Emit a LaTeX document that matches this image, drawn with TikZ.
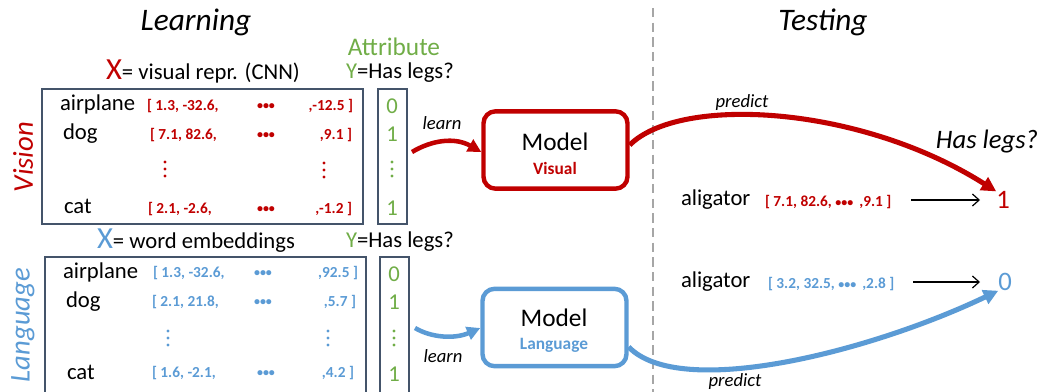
\documentclass[tikz,border=0pt]{standalone}
\usepackage{fontspec}
\setmainfont{Carlito}
\usetikzlibrary{arrows.meta}
\definecolor{cred}{HTML}{C00000}
\definecolor{cblue}{HTML}{5B9BD5}
\definecolor{cgreen}{HTML}{70AD47}
\definecolor{cframe}{HTML}{44546A}
\definecolor{cdash}{HTML}{A6A6A6}
\newcommand{\bdots}{{\fontsize{9}{10}\selectfont •••}}
\tikzset{
  px/.style={inner sep=0pt, outer sep=0pt},
  title/.style={px, font=\fontsize{23.5}{26}\itshape\selectfont},
  side/.style={px, font=\fontsize{21.5}{24}\itshape\selectfont, rotate=90},
  hdr/.style={px, font=\fontsize{17}{20}\selectfont, anchor=west},
  word/.style={px, font=\fontsize{17}{20}\selectfont, anchor=west},
  vec/.style={px, font=\fontsize{11.5}{12}\bfseries\selectfont},
  num/.style={px, font=\fontsize{17}{20}\selectfont, text=cgreen},
  frame/.style={draw=cframe, line width=1.3pt},
  modelbox/.style={draw, line width=3.3pt, rounded corners=9pt, minimum width=108pt, minimum height=58pt, inner sep=0pt},
  lbl/.style={px, font=\fontsize{14}{16}\itshape\selectfont},
  thick arrow/.style={line width=3.4pt, -{Triangle[length=10pt,width=10pt]}},
  thin arrow/.style={line width=0.9pt, -{Straight Barb[length=5pt,width=9pt]}},
  vd/.pic={\fill (0,-7) circle (1.6) (0,0) circle (1.6) (0,7) circle (1.6);},
}
\begin{document}
\begin{tikzpicture}[x=0.75pt,y=-0.75pt]
\useasboundingbox (0,0) rectangle (1042,392);
% titles and separator
\node[title] (tlearn) at (196,22) {Learning};
\node[title] (ttest) at (823,22) {Testing};
\coordinate (sepTop) at (653,8);
\coordinate (sepBot) at (653,392);
\draw[cdash, line width=1pt, dash pattern=on 7pt off 4pt] (sepTop) -- (sepBot);

% ---------- Vision block ----------
\node[hdr] (xv) at (106,71) {{\fontsize{23}{26}\selectfont\color{cred}X}= visual repr. (CNN)};
\node[px, font=\fontsize{19}{22}\selectfont, text=cgreen] (attr) at (394,47) {Attribute};
\node[hdr] (yv) at (346,73) {{\color{cgreen}Y}=Has legs?};
\node[side, text=cred] (vision) at (23,157) {Vision};
\node[frame, px, minimum width=240.75pt, minimum height=101.25pt] (boxV) at (202.5,156.5) {};
\node[frame, px, minimum width=21.75pt, minimum height=101.25pt] (colV) at (392.5,156.5) {};

\node[word] (va1) at (60,104) {airplane};
\node[word] (va2) at (63,134) {dog};
\node[word] (va4) at (64,206) {cat};
\begin{scope}[every node/.style={text=cred}]
\node[vec, anchor=west] (vl1) at (147,106) {[ 1.3, -32.6,};
\node[vec, anchor=west] (vl2) at (150,135) {[ 7.1, 82.6,};
\node[vec, anchor=west] (vl4) at (148,209) {[ 2.1, -2.6,};
\node[vec] (vd1) at (266,107) {\bdots};
\node[vec] (vd2) at (266,136) {\bdots};
\node[vec] (vd4) at (266,210) {\bdots};
\node[vec, anchor=east] (vr1) at (353,106) {,-12.5 ]};
\node[vec, anchor=east] (vr2) at (352,135) {,9.1 ]};
\node[vec, anchor=east] (vr4) at (352,209) {,-1.2 ]};
\end{scope}
\pic[cred] at (165,169) {vd};
\pic[cred] at (324,170) {vd};
\node[num] (vn1) at (392,106) {0};
\node[num] (vn2) at (392,134) {1};
\pic[cgreen] at (392,169) {vd};
\node[num] (vn4) at (392,208) {1};

\node[modelbox, draw=cred] (modelV) at (555.5,150) {};
\node[px, font=\fontsize{19}{22}\selectfont] (mV) at (555,142) {Model};
\node[px, font=\fontsize{13}{15}\bfseries\selectfont, text=cred] (mVs) at (555,168) {Visual};

\coordinate (learnVs) at (412,152);
\draw[cred, thick arrow] (learnVs) .. controls (432,140) and (455,137) .. (modelV.west |- learnVs);
\node[lbl] (learnV) at (442,123) {learn};

% ---------- Language block ----------
\node[hdr] (xl) at (97,241) {{\fontsize{23}{26}\selectfont\color{cblue}X}= word embeddings};
\node[hdr] (yl) at (346,242) {{\color{cgreen}Y}=Has legs?};
\node[side, text=cblue] (language) at (23,325) {Language};
\coordinate (bL1) at (45,394);
\coordinate (bL2) at (45,257);
\coordinate (bL3) at (366,257);
\coordinate (bL4) at (366,394);
\draw[frame] (bL1) -- (bL2) -- (bL3) -- (bL4);
\coordinate (cL1) at (380,394);
\coordinate (cL2) at (380,257);
\coordinate (cL3) at (409,257);
\coordinate (cL4) at (409,394);
\draw[frame] (cL1) -- (cL2) -- (cL3) -- (cL4);

\node[word] (la1) at (63,272) {airplane};
\node[word] (la2) at (66,302) {dog};
\node[word] (la4) at (67,372) {cat};
\begin{scope}[every node/.style={text=cblue}]
\node[vec, anchor=west] (ll1) at (153,273) {[ 1.3, -32.6,};
\node[vec, anchor=west] (ll2) at (152,302) {[ 2.1, 21.8,};
\node[vec, anchor=west] (ll4) at (152,373) {[ 1.6, -2.1,};
\node[vec] (ld1) at (263,274) {\bdots};
\node[vec] (ld2) at (263,303) {\bdots};
\node[vec] (ld4) at (266,374) {\bdots};
\node[vec, anchor=east] (lr1) at (358,273) {,92.5 ]};
\node[vec, anchor=east] (lr2) at (356,302) {,5.7 ]};
\node[vec, anchor=east] (lr4) at (354,373) {,4.2 ]};
\end{scope}
\pic[cblue] at (168,338) {vd};
\pic[cblue] at (328,338) {vd};
\node[num] (ln1) at (394,274) {0};
\node[num] (ln2) at (394,302) {1};
\pic[cgreen] at (394,338) {vd};
\node[num] (ln4) at (394,374) {1};

\node[modelbox, draw=cblue] (modelL) at (554.5,327.5) {};
\node[px, font=\fontsize{19}{22}\selectfont] (mL) at (554,318) {Model};
\node[px, font=\fontsize{13}{15}\bfseries\selectfont, text=cblue] (mLs) at (554,345) {Language};

\coordinate (learnLs) at (415,328);
\draw[cblue, thick arrow] (learnLs) .. controls (432,338) and (455,339) .. (modelL.west |- learnLs);
\node[lbl] (learnL) at (443,356) {learn};

% ---------- Testing ----------
\node[px, font=\fontsize{20}{23}\itshape\selectfont] (haslegs) at (987,142) {Has legs?};
\node[word] (al1) at (681,200) {aligator};
\node[vec, anchor=west, text=cred] (tv1) at (765,202) {[ 7.1, 82.6,\ \bdots\ \,,9.1 ]};
\node[px, font=\fontsize{20}{23}\selectfont, text=cred] (out1) at (1003,200) {1};
\coordinate (a1s) at (911,200);
\draw[thin arrow] (a1s) -- (out1.west -| 980,0);

\node[word] (al2) at (681,282) {aligator};
\node[vec, anchor=west, text=cblue] (tv2) at (768,284) {[ 3.2, 32.5,\ \bdots\ \,,2.8 ]};
\node[px, font=\fontsize{20}{23}\selectfont, text=cblue] (out0) at (1005,282) {0};
\coordinate (a2s) at (913,282);
\draw[thin arrow] (a2s) -- (out0.west -| 980,0);

\draw[cred, line width=3.8pt, -{Triangle[length=11pt,width=11pt]}] (modelV.east |- 0,145) .. controls (680,95) and (860,105) .. (out1.north west);
\node[lbl] (predV) at (742,103) {predict};
\draw[cblue, line width=3.8pt, -{Triangle[length=11pt,width=11pt]}] (modelL.east |- 0,347) .. controls (680,400) and (870,352) .. (out0.south west);
\node[lbl] (predL) at (735,382) {predict};
\end{tikzpicture}
\end{document}
